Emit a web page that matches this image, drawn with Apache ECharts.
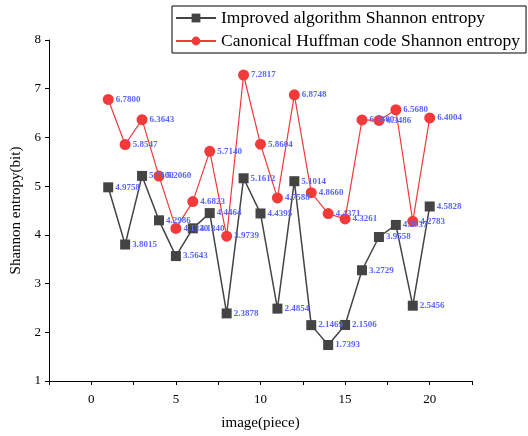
<!DOCTYPE html>
<html>
<head>
<meta charset="utf-8">
<script src="https://cdn.jsdelivr.net/npm/echarts@6/dist/echarts.min.js"></script>
<style>
    html, body { margin: 0; padding: 0; background: #fff; }
    #chart { width: 528px; height: 436px; }
</style>
</head>
<body>
<div id="chart"></div>
<script>
// image index, 1..20
const images = [1, 2, 3, 4, 5, 6, 7, 8, 9, 10, 11, 12, 13, 14, 15, 16, 17, 18, 19, 20];

const improved = [4.9758, 3.8015, 5.2100, 4.2986, 3.5643, 4.1340, 4.4464, 2.3878, 5.1612, 4.4395,
    2.4854, 5.1014, 2.1469, 1.7393, 2.1506, 3.2729, 3.9558, 4.2037, 2.5456, 4.5828];

const huffman = [6.7800, 5.8547, 6.3643, 5.2060, 4.1330, 4.6823, 5.7140, 3.9739, 7.2817, 5.8604,
    4.7588, 6.8748, 4.8660, 4.4371, 4.3261, 6.3600, 6.3486, 6.5680, 4.2783, 6.4004];

const serif = '"Liberation Serif", "DejaVu Serif", serif';

function pairs(vals) {
    return images.map(function (x, i) { return [x, vals[i]]; });
}

const labelStyle = {
    show: true,
    position: 'right',
    distance: 2,
    formatter: function (p) { return p.value[1].toFixed(4); },
    color: '#5a66ff',
    fontFamily: serif,
    fontWeight: 'bold',
    fontSize: 9
};

echarts.init(document.getElementById('chart')).setOption({
    animation: false,
    grid: { left: 49, right: 56, top: 40, bottom: 54 },
    legend: {
        left: 172,
        top: 6,
        orient: 'vertical',
        itemGap: 5,
        itemWidth: 40,
        itemHeight: 11,
        padding: [3, 6, 3, 3],
        borderColor: '#000',
        borderWidth: 1,
        textStyle: { fontFamily: serif, fontSize: 17.5, color: '#000' }
    },
    xAxis: {
        type: 'value',
        min: -2.5,
        max: 22.5,
        interval: 2.5,
        name: 'image(piece)',
        nameLocation: 'middle',
        nameGap: 35,
        nameTextStyle: { fontFamily: serif, fontSize: 15, color: '#000' },
        splitLine: { show: false },
        axisLine: { onZero: false, lineStyle: { color: '#000' } },
        axisTick: { inside: false, length: 4, lineStyle: { color: '#000' } },
        axisLabel: {
            color: '#000',
            fontFamily: serif,
            fontSize: 13,
            margin: 12,
            formatter: function (v) { return v % 5 === 0 ? String(v) : ''; }
        }
    },
    yAxis: {
        type: 'value',
        min: 1,
        max: 8,
        interval: 1,
        name: 'Shannon entropy(bit)',
        nameLocation: 'middle',
        nameGap: 25,
        nameTextStyle: { fontFamily: serif, fontSize: 15, color: '#000' },
        splitLine: { show: false },
        axisLine: { show: true, onZero: false, lineStyle: { color: '#000' } },
        axisTick: { show: true, inside: false, length: 4, lineStyle: { color: '#000' } },
        axisLabel: { color: '#000', fontFamily: serif, fontSize: 13, margin: 8 }
    },
    series: [
        {
            name: 'Improved algorithm Shannon entropy',
            type: 'line',
            data: pairs(improved),
            symbol: 'rect',
            symbolSize: 10,
            itemStyle: { color: '#444444' },
            lineStyle: { color: '#444444', width: 1.5 },
            label: labelStyle
        },
        {
            name: 'Canonical Huffman code Shannon entropy',
            type: 'line',
            data: pairs(huffman),
            symbol: 'circle',
            symbolSize: 11,
            itemStyle: { color: '#f23a3a' },
            lineStyle: { color: '#f23a3a', width: 1.2 },
            label: labelStyle
        }
    ]
});
</script>
</body>
</html>
